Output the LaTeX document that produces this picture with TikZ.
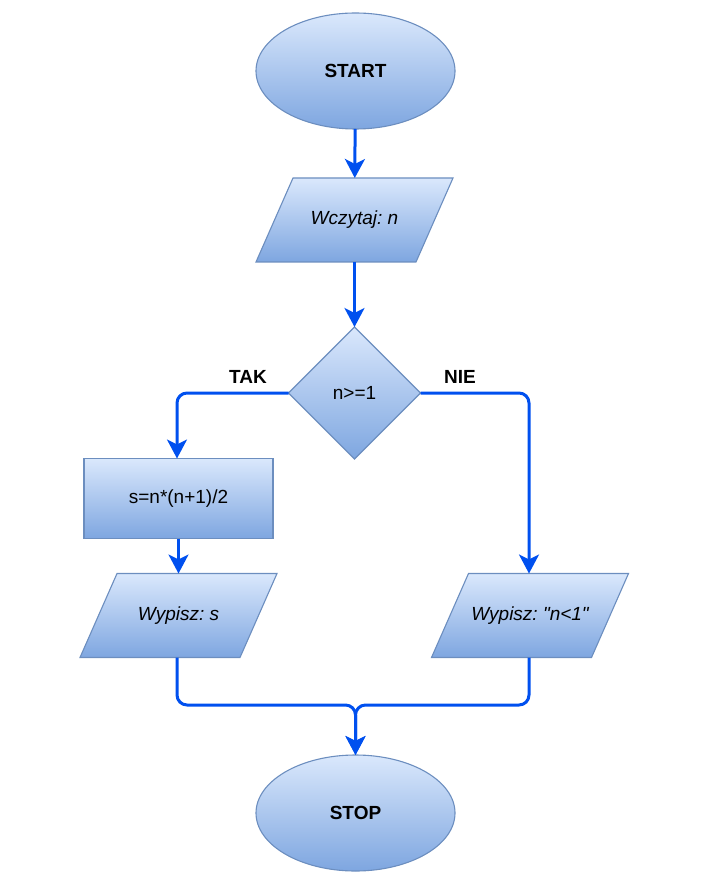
\documentclass[tikz,border=0pt]{standalone}
\usepackage{fontspec}
\setmainfont{Liberation Sans}
\usetikzlibrary{shapes.geometric,arrows.meta}
\frenchspacing
\definecolor{flowline}{HTML}{0050EF}
\definecolor{boxtop}{HTML}{DAE8FC}
\definecolor{boxbottom}{HTML}{7EA6E0}
\definecolor{boxedge}{HTML}{6C8EBF}
% Parallelogram for input/output steps: centre x, centre y
\newcommand\ioslab[2]{%
  \path[block] ({#1-61.5},{#2-42}) -- ({#1+98.5},{#2-42})
    -- ({#1+61.5},{#2+42}) -- ({#1-98.5},{#2+42}) -- cycle;}
\begin{document}
\begin{tikzpicture}[x=1pt,y=-1pt,
  font=\fontsize{19}{23}\selectfont,
  block/.style={draw=boxedge,line width=1.1pt,top color=boxtop,bottom color=boxbottom,
    inner sep=0pt,outer sep=0pt,align=center},
  terminal/.style={block,ellipse,minimum width=199pt,minimum height=116pt},
  io/.style={rectangle,inner sep=0pt,outer sep=0pt,minimum width=160pt,minimum height=84pt},
  process/.style={block,rectangle,minimum width=189pt,minimum height=80pt},
  decision/.style={block,diamond,aspect=1,minimum width=132pt,minimum height=132pt},
  flow/.style={draw=flowline,line width=3pt,rounded corners=10pt,
    -{Stealth[length=19pt,width=20pt,inset=5pt]}},
  branch/.style={font=\fontsize{19}{23}\selectfont\bfseries}]
\useasboundingbox (0,0) rectangle (710,890);

\node[terminal,font=\fontsize{19}{23}\selectfont\bfseries] (start) at (355.5,71) {START};
\ioslab{354.5}{220}
\node[io] (read) at (354.5,220) {\itshape Wczytaj: n};
\node[decision] (cond) at (354.5,393) {n>=1};
\node[process] (calc) at (178.5,498.5) {s=n*(n+1)/2};
\ioslab{178.5}{615.5}
\node[io] (outs) at (178.5,615.5) {\itshape Wypisz: s};
\ioslab{530}{615.5}
\node[io] (outn) at (530,615.5) {\itshape Wypisz: \textquotedbl n<1\textquotedbl};
\node[terminal,font=\fontsize{19}{23}\selectfont\bfseries] (stop) at (355.5,813) {STOP};

\node[branch] (yes) at (248,377) {TAK};
\node[branch] (no) at (460,377) {NIE};

\coordinate (join) at (355.5,705);

\draw[flow] (start) -- (read);
\draw[flow] (read) -- (cond);
\draw[flow] (cond.west) -| (calc.north -| 177,0);
\draw[flow] (cond.east) -| (outn.north -| 529,0);
\draw[flow] (calc) -- (outs);
\draw[flow] (outs.south -| 177,0) |- (join) -- (stop.north);
\draw[flow] (outn.south -| 529,0) |- (join) -- (stop.north);
\end{tikzpicture}
\end{document}
